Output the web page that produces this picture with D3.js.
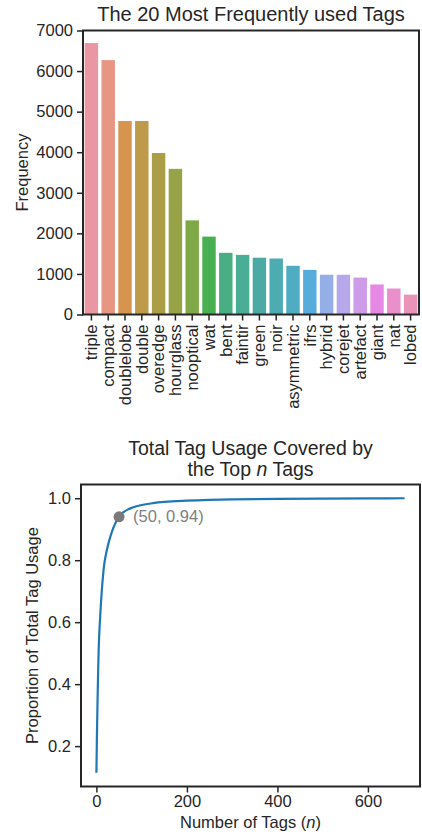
<!DOCTYPE html>
<html>
<head>
<meta charset="utf-8">
<script src="https://cdn.jsdelivr.net/npm/d3@7"></script>
<style>
  html, body { margin: 0; padding: 0; background: #fff; }
  svg { display: block; font-family: "Liberation Sans", Arial, sans-serif; }
  .axis text { fill: #262626; font-size: 16.5px; }
  .axis line, .axis path { stroke: #262626; }
</style>
</head>
<body>
<svg id="chart" width="422" height="834"></svg>
<script>
// Top 20 tags and how often each was used
const tags = ["triple", "compact", "doublelobe", "double", "overedge", "hourglass",
  "nooptical", "wat", "bent", "faintir", "green", "noir", "asymmetric", "ifrs",
  "hybrid", "corejet", "artefact", "giant", "nat", "lobed"];
const frequency = [6690, 6270, 4770, 4770, 3980, 3590, 2320, 1920, 1520, 1470,
  1400, 1380, 1200, 1100, 980, 980, 910, 740, 640, 490];
const freqTicks = [0, 1000, 2000, 3000, 4000, 5000, 6000, 7000];

// Share of all tag usage covered by the top n tags
const coverageN = [0, 1, 2, 3, 4, 5, 6, 7, 8, 9, 10, 11, 12, 13, 14, 15, 16, 17, 18, 19,
  25, 30, 35, 40, 45, 50, 60, 70, 80, 100, 125, 150, 200, 250, 300, 400, 500, 600, 681];
const coverageShare = [0.114, 0.221, 0.302, 0.383, 0.451, 0.512, 0.552, 0.584, 0.610, 0.635,
  0.659, 0.683, 0.703, 0.722, 0.739, 0.755, 0.771, 0.783, 0.794, 0.803,
  0.845, 0.872, 0.895, 0.913, 0.929, 0.942, 0.955, 0.964, 0.970, 0.978, 0.984, 0.988,
  0.992, 0.9945, 0.996, 0.998, 0.999, 0.9996, 1.0];
const shareTicks = [0.2, 0.4, 0.6, 0.8, 1.0];
const countTicks = [0, 200, 400, 600];
const highlight = { n: 50, share: 0.94 };

const svg = d3.select("#chart");
const ink = "#262626";
const labelSize = 16.5;

// ---- HUSL palette (same maths as the husl package) ----
const M = [[3.2406, -1.5372, -0.4986], [-0.9689, 1.8758, 0.0415], [0.0557, -0.2040, 1.0570]];
const refU = 0.19784, refV = 0.46834, kappa = 903.3, eps = 0.008856;
function maxChroma(L, H) {
  const hr = H / 360 * 2 * Math.PI, sinH = Math.sin(hr), cosH = Math.cos(hr);
  const sub1 = Math.pow(L + 16, 3) / 1560896;
  const sub2 = sub1 > eps ? sub1 : L / kappa;
  let result = Infinity;
  for (const [m1, m2, m3] of M) {
    const tp = (0.99915 * m1 + 1.05122 * m2 + 1.14460 * m3) * sub2;
    const rb = 0.86330 * m3 - 0.17266 * m2;
    const lb = 0.12949 * m3 - 0.38848 * m1;
    const bottom = (rb * sinH + lb * cosH) * sub2;
    for (const t of [0, 1]) {
      const C = L * (tp - 1.05122 * t) / (bottom + 0.17266 * sinH * t);
      if (C > 0 && C < result) result = C;
    }
  }
  return result;
}
function huslToRgb(H, S, L) {
  const C = maxChroma(L, H) / 100 * S;
  const hr = H / 360 * 2 * Math.PI;
  const U = C * Math.cos(hr), V = C * Math.sin(hr);
  const t = (L + 16) / 116;
  const varY = Math.pow(t, 3) > eps ? Math.pow(t, 3) : (116 * t - 16) / kappa;
  const vu = U / (13 * L) + refU, vv = V / (13 * L) + refV;
  const Y = varY;
  const X = -(9 * Y * vu) / ((vu - 4) * vv - vu * vv);
  const Z = (9 * Y - 15 * vv * Y - vv * X) / (3 * vv);
  const lin = M.map(r => r[0] * X + r[1] * Y + r[2] * Z);
  const g = c => c <= 0.0031308 ? 12.92 * c : 1.055 * Math.pow(c, 1 / 2.4) - 0.055;
  const [r, gg, b] = lin.map(g).map(v => Math.max(0, Math.min(1, v)) * 255);
  return d3.rgb(r, gg, b);
}
function huslPalette(n, h = 0.01, s = 0.9, l = 0.7) {
  return d3.range(n).map(i => {
    const hue = ((i / n + h) % 1) * 359;
    return huslToRgb(hue, s * 99, l * 99);
  });
}
const barColors = huslPalette(tags.length).map(c => {
  const hsl = d3.hsl(c); hsl.s *= 0.75; return hsl.formatHex();
});

// ---- Bar chart ----
const box1 = { left: 83, right: 419, top: 30.5, bottom: 314.5 };
const x1 = d3.scaleBand().domain(tags).range([box1.left, box1.right])
  .paddingInner(0.2).paddingOuter(0.1);
const y1 = d3.scaleLinear().domain([0, 7000]).range([box1.bottom, box1.top]);

svg.append("g").selectAll("rect").data(tags).join("rect")
  .attr("x", d => x1(d))
  .attr("y", (d, i) => y1(frequency[i]))
  .attr("width", x1.bandwidth())
  .attr("height", (d, i) => y1(0) - y1(frequency[i]))
  .attr("fill", (d, i) => barColors[i]);

svg.append("g").attr("class", "axis")
  .attr("transform", `translate(${box1.left},0)`)
  .call(d3.axisLeft(y1).tickValues(freqTicks).tickFormat(d3.format("d"))
    .tickSize(6).tickPadding(4).tickSizeOuter(0))
  .call(g => g.select(".domain").remove())
  .call(g => g.selectAll("line").attr("stroke-width", 1.5));

svg.append("g").attr("class", "axis")
  .attr("transform", `translate(0,${box1.bottom})`)
  .call(d3.axisBottom(x1).tickSize(6).tickPadding(3).tickSizeOuter(0))
  .call(g => g.select(".domain").remove())
  .call(g => g.selectAll("line").attr("stroke-width", 1.5))
  .call(g => g.selectAll("text")
    .attr("transform", "rotate(-90)")
    .attr("text-anchor", "end")
    .attr("dy", "0.35em")
    .attr("x", -10).attr("y", 0));

svg.append("rect")
  .attr("x", box1.left).attr("y", box1.top)
  .attr("width", box1.right - box1.left).attr("height", box1.bottom - box1.top)
  .attr("fill", "none").attr("stroke", ink).attr("stroke-width", 2);

svg.append("text")
  .attr("x", (box1.left + box1.right) / 2).attr("y", 21)
  .attr("text-anchor", "middle").attr("fill", ink).attr("font-size", 20)
  .text("The 20 Most Frequently used Tags");

svg.append("text")
  .attr("transform", `translate(27.5,${(box1.top + box1.bottom) / 2}) rotate(-90)`)
  .attr("text-anchor", "middle").attr("fill", ink).attr("font-size", labelSize)
  .text("Frequency");

// ---- Cumulative coverage chart ----
const box2 = { left: 81, right: 420, top: 484.5, bottom: 786.5 };
const nMax = d3.max(coverageN), nMin = d3.min(coverageN);
const sMax = d3.max(coverageShare), sMin = d3.min(coverageShare);
const nPad = 0.05 * (nMax - nMin), sPad = 0.05 * (sMax - sMin);
const x2 = d3.scaleLinear().domain([nMin - nPad, nMax + nPad]).range([box2.left, box2.right]);
const y2 = d3.scaleLinear().domain([sMin - sPad, sMax + sPad]).range([box2.bottom, box2.top]);

const line = d3.line()
  .x((d, i) => x2(coverageN[i]))
  .y(d => y2(d))
  .curve(d3.curveMonotoneX);

svg.append("path")
  .datum(coverageShare)
  .attr("d", line)
  .attr("fill", "none")
  .attr("stroke", "#1f77b4")
  .attr("stroke-width", 2.2);

svg.append("circle")
  .attr("cx", x2(highlight.n)).attr("cy", y2(highlight.share))
  .attr("r", 5.5).attr("fill", "#7a7a7a");

svg.append("text")
  .attr("x", x2(highlight.n) + 14).attr("y", y2(highlight.share) + 5.5)
  .attr("fill", "#808080").attr("font-size", labelSize)
  .text(`(${highlight.n}, ${highlight.share.toFixed(2)})`);

svg.append("g").attr("class", "axis")
  .attr("transform", `translate(${box2.left},0)`)
  .call(d3.axisLeft(y2).tickValues(shareTicks).tickFormat(d3.format(".1f"))
    .tickSize(6).tickPadding(4).tickSizeOuter(0))
  .call(g => g.select(".domain").remove())
  .call(g => g.selectAll("line").attr("stroke-width", 1.5));

svg.append("g").attr("class", "axis")
  .attr("transform", `translate(0,${box2.bottom})`)
  .call(d3.axisBottom(x2).tickValues(countTicks).tickFormat(d3.format("d"))
    .tickSize(6).tickPadding(3).tickSizeOuter(0))
  .call(g => g.select(".domain").remove())
  .call(g => g.selectAll("line").attr("stroke-width", 1.5));

svg.append("rect")
  .attr("x", box2.left).attr("y", box2.top)
  .attr("width", box2.right - box2.left).attr("height", box2.bottom - box2.top)
  .attr("fill", "none").attr("stroke", ink).attr("stroke-width", 2);

const t2 = svg.append("text")
  .attr("x", (box2.left + box2.right) / 2).attr("y", 455)
  .attr("text-anchor", "middle").attr("fill", ink).attr("font-size", 19.5);
t2.append("tspan").text("Total Tag Usage Covered by");
const t2b = svg.append("text")
  .attr("x", (box2.left + box2.right) / 2).attr("y", 475.5)
  .attr("text-anchor", "middle").attr("fill", ink).attr("font-size", 19.5);
t2b.append("tspan").text("the Top ");
t2b.append("tspan").attr("font-style", "italic").text("n");
t2b.append("tspan").text(" Tags");

svg.append("text")
  .attr("transform", `translate(38,${(box2.top + box2.bottom) / 2}) rotate(-90)`)
  .attr("text-anchor", "middle").attr("fill", ink).attr("font-size", labelSize)
  .text("Proportion of Total Tag Usage");

const xl = svg.append("text")
  .attr("x", (box2.left + box2.right) / 2).attr("y", 828)
  .attr("text-anchor", "middle").attr("fill", ink).attr("font-size", labelSize);
xl.append("tspan").text("Number of Tags (");
xl.append("tspan").attr("font-style", "italic").text("n");
xl.append("tspan").text(")");
</script>
</body>
</html>
